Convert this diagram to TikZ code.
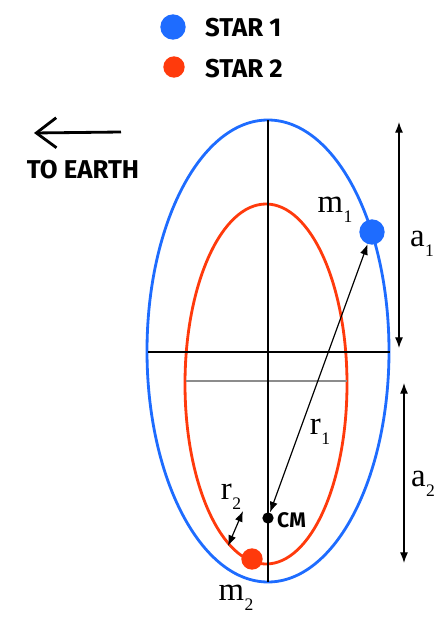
\documentclass[tikz,border=0pt]{standalone}
\usepackage{fontspec}
\setmainfont{Liberation Serif}
\newfontfamily\handfont{Fira Sans}
\usetikzlibrary{arrows.meta}
\definecolor{starblue}{RGB}{30,108,255}
\definecolor{starred}{RGB}{255,58,12}
\newcommand{\lsub}[1]{\kern0.5pt\raisebox{-0.32em}{\fontsize{15}{15}\selectfont #1}}
\tikzset{
  orbitline/.style={line width=2.4pt},
  axisline/.style={line width=2.1pt},
  figarrow/.style={{Latex[length=3.2mm,width=2.4mm]}-{Latex[length=3.2mm,width=2.4mm]}, line width=1pt},
  stardot/.style={circle, inner sep=0pt, minimum size=7.6mm},
  figlabel/.style={font=\fontsize{28}{30}\selectfont, inner sep=0pt},
  handlabel/.style={font=\handfont\bfseries\fontsize{22}{24}\selectfont, inner sep=0pt},
}

\begin{document}
\begin{tikzpicture}[x=0.03cm, y=-0.03cm]
  \useasboundingbox (0,0) rectangle (443,619);

  % legend
  \node[stardot, fill=starblue] (key1) at (173,27) {};
  \node[stardot, fill=starred, minimum size=6.4mm] (key2) at (174,67) {};
  \node[handlabel, anchor=west] (key1text) at (205,28) {STAR 1};
  \node[handlabel, anchor=west] (key2text) at (205,69) {STAR 2};

  % direction to earth
  \coordinate (earthtail) at (121,132);
  \coordinate (earthtip) at (34,133);
  \draw[line width=2.4pt, -{Straight Barb[length=6mm,width=9mm,line width=2.4pt]}] (earthtail) -- (earthtip);
  \node[handlabel] (earthtext) at (83,170) {TO EARTH};

  % orbits
  \draw[orbitline, starblue] (268,351) ellipse (121 and 231);
  \draw[orbitline, starred] (266,384) ellipse (81 and 180);
  \draw[line width=1.8pt, black!45] (186,381) -- (347,381);

  % axes
  \draw[axisline] (148,352) -- (390,352);
  \draw[axisline] (268,120) -- (268,582);

  % semi-major axes
  \coordinate (a1top) at (399,122);
  \coordinate (a1bot) at (399,348);
  \coordinate (a2top) at (404,383);
  \coordinate (a2bot) at (404,563);
  \draw[figarrow] (a1top) -- (a1bot);
  \draw[figarrow] (a2top) -- (a2bot);
  \node[figlabel] (a1) at (422,244) {a\lsub{1}};
  \node[figlabel] (a2) at (423,484) {a\lsub{2}};

  % stars and centre of mass
  \node[stardot, fill=starblue] (star1) at (372,232) {};
  \node[stardot, fill=starred, minimum size=6.4mm] (star2) at (252,559) {};
  \node[circle, fill=black, inner sep=0pt, minimum size=3.4mm] (cm) at (268,518) {};
  \node[handlabel, font=\handfont\bfseries\fontsize{18}{20}\selectfont, anchor=west] (cmtext) at (277,520) {CM};
  \node[figlabel] (m1) at (335,210) {m\lsub{1}};
  \node[figlabel] (m2) at (236,598) {m\lsub{2}};

  % separations
  \draw[figarrow] (cm) -- (star1);
  \coordinate (r2low) at (228,546);
  \coordinate (r2high) at (243,511);
  \draw[figarrow] (r2low) -- (r2high);
  \node[figlabel] (r1) at (320,432) {r\lsub{1}};
  \node[figlabel] (r2) at (231,497) {r\lsub{2}};
\end{tikzpicture}
\end{document}
